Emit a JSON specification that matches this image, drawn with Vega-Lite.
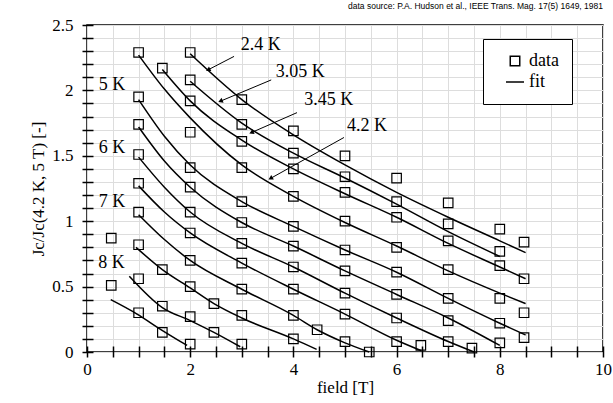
{
  "$schema": "https://vega.github.io/schema/vega-lite/v6.json",
  "width": 516,
  "height": 327,
  "autosize": {"type": "none"},
  "padding": {"left": 87, "top": 25, "right": 10, "bottom": 51},
  "background": "white",
  "title": {
    "text": "data source: P.A. Hudson et al., IEEE Trans. Mag. 17(5) 1649, 1981",
    "anchor": "end",
    "frame": "group",
    "font": "Liberation Sans",
    "fontSize": 8.5,
    "fontWeight": "normal",
    "color": "black",
    "offset": 6
  },
  "config": {
    "view": {"stroke": "black", "strokeWidth": 1.5}
  },
  "datasets": {
    "squares": [
      {"B": 0.47, "J": 0.87}, {"B": 0.47, "J": 0.51},
      {"B": 1, "J": 2.29}, {"B": 1, "J": 1.95}, {"B": 1, "J": 1.74}, {"B": 1, "J": 1.51}, {"B": 1, "J": 1.29},
      {"B": 1, "J": 1.07}, {"B": 1, "J": 0.82}, {"B": 1, "J": 0.56}, {"B": 1, "J": 0.30},
      {"B": 1.46, "J": 2.17}, {"B": 1.46, "J": 0.63}, {"B": 1.46, "J": 0.35}, {"B": 1.46, "J": 0.15},
      {"B": 2, "J": 2.29}, {"B": 2, "J": 2.08}, {"B": 2, "J": 1.92}, {"B": 2, "J": 1.68}, {"B": 2, "J": 1.41},
      {"B": 2, "J": 1.26}, {"B": 2, "J": 1.07}, {"B": 2, "J": 0.91}, {"B": 2, "J": 0.70}, {"B": 2, "J": 0.50},
      {"B": 2, "J": 0.27}, {"B": 2, "J": 0.06},
      {"B": 2.46, "J": 0.37}, {"B": 2.46, "J": 0.15},
      {"B": 3, "J": 1.93}, {"B": 3, "J": 1.74}, {"B": 3, "J": 1.61}, {"B": 3, "J": 1.41}, {"B": 3, "J": 1.15},
      {"B": 3, "J": 0.99}, {"B": 3, "J": 0.83}, {"B": 3, "J": 0.68}, {"B": 3, "J": 0.48}, {"B": 3, "J": 0.28},
      {"B": 3, "J": 0.06},
      {"B": 4, "J": 1.69}, {"B": 4, "J": 1.52}, {"B": 4, "J": 1.40}, {"B": 4, "J": 1.19}, {"B": 4, "J": 0.96},
      {"B": 4, "J": 0.81}, {"B": 4, "J": 0.65}, {"B": 4, "J": 0.48}, {"B": 4, "J": 0.28}, {"B": 4, "J": 0.10},
      {"B": 4.46, "J": 0.17},
      {"B": 5, "J": 1.50}, {"B": 5, "J": 1.34}, {"B": 5, "J": 1.22}, {"B": 5, "J": 1.00}, {"B": 5, "J": 0.78},
      {"B": 5, "J": 0.62}, {"B": 5, "J": 0.45}, {"B": 5, "J": 0.29}, {"B": 5, "J": 0.08},
      {"B": 5.47, "J": 0.0},
      {"B": 6, "J": 1.33}, {"B": 6, "J": 1.15}, {"B": 6, "J": 1.03}, {"B": 6, "J": 0.80}, {"B": 6, "J": 0.61},
      {"B": 6, "J": 0.44}, {"B": 6, "J": 0.26}, {"B": 6, "J": 0.08},
      {"B": 6.47, "J": 0.05},
      {"B": 7, "J": 1.14}, {"B": 7, "J": 0.98}, {"B": 7, "J": 0.85}, {"B": 7, "J": 0.63}, {"B": 7, "J": 0.41},
      {"B": 7, "J": 0.24}, {"B": 7, "J": 0.08},
      {"B": 7.46, "J": 0.03},
      {"B": 8, "J": 0.94}, {"B": 8, "J": 0.77}, {"B": 8, "J": 0.66}, {"B": 8, "J": 0.41}, {"B": 8, "J": 0.22},
      {"B": 8, "J": 0.07},
      {"B": 8.47, "J": 0.84}, {"B": 8.47, "J": 0.56}, {"B": 8.47, "J": 0.30}, {"B": 8.47, "J": 0.11}
    ],
    "fits": [
      {"curve": "2.4 K", "B": 2, "J": 2.28}, {"curve": "2.4 K", "B": 3, "J": 1.93}, {"curve": "2.4 K", "B": 4, "J": 1.66},
      {"curve": "2.4 K", "B": 5, "J": 1.43}, {"curve": "2.4 K", "B": 6, "J": 1.22}, {"curve": "2.4 K", "B": 7, "J": 1.03},
      {"curve": "2.4 K", "B": 8, "J": 0.85}, {"curve": "2.4 K", "B": 8.5, "J": 0.76},

      {"curve": "3.05 K", "B": 2, "J": 2.07}, {"curve": "3.05 K", "B": 3, "J": 1.75}, {"curve": "3.05 K", "B": 4, "J": 1.52},
      {"curve": "3.05 K", "B": 5, "J": 1.33}, {"curve": "3.05 K", "B": 6, "J": 1.13}, {"curve": "3.05 K", "B": 7, "J": 0.92},
      {"curve": "3.05 K", "B": 8, "J": 0.73},

      {"curve": "3.45 K", "B": 1.46, "J": 2.16}, {"curve": "3.45 K", "B": 2, "J": 1.92}, {"curve": "3.45 K", "B": 3, "J": 1.62},
      {"curve": "3.45 K", "B": 4, "J": 1.40}, {"curve": "3.45 K", "B": 5, "J": 1.21}, {"curve": "3.45 K", "B": 6, "J": 1.03},
      {"curve": "3.45 K", "B": 7, "J": 0.83}, {"curve": "3.45 K", "B": 8, "J": 0.65}, {"curve": "3.45 K", "B": 8.5, "J": 0.56},

      {"curve": "4.2 K", "B": 1, "J": 2.27}, {"curve": "4.2 K", "B": 1.5, "J": 2.01}, {"curve": "4.2 K", "B": 2, "J": 1.79},
      {"curve": "4.2 K", "B": 3, "J": 1.43}, {"curve": "4.2 K", "B": 4, "J": 1.19}, {"curve": "4.2 K", "B": 5, "J": 0.99},
      {"curve": "4.2 K", "B": 6, "J": 0.81}, {"curve": "4.2 K", "B": 7, "J": 0.62}, {"curve": "4.2 K", "B": 8, "J": 0.45},
      {"curve": "4.2 K", "B": 8.5, "J": 0.37},

      {"curve": "5 K", "B": 1, "J": 1.93}, {"curve": "5 K", "B": 1.5, "J": 1.65}, {"curve": "5 K", "B": 2, "J": 1.43},
      {"curve": "5 K", "B": 3, "J": 1.15}, {"curve": "5 K", "B": 4, "J": 0.96}, {"curve": "5 K", "B": 5, "J": 0.78},
      {"curve": "5 K", "B": 6, "J": 0.61}, {"curve": "5 K", "B": 7, "J": 0.41}, {"curve": "5 K", "B": 8, "J": 0.22},
      {"curve": "5 K", "B": 8.5, "J": 0.13},

      {"curve": "5.5 K", "B": 1, "J": 1.72}, {"curve": "5.5 K", "B": 1.5, "J": 1.46}, {"curve": "5.5 K", "B": 2, "J": 1.26},
      {"curve": "5.5 K", "B": 3, "J": 0.99}, {"curve": "5.5 K", "B": 4, "J": 0.81}, {"curve": "5.5 K", "B": 5, "J": 0.62},
      {"curve": "5.5 K", "B": 6, "J": 0.44}, {"curve": "5.5 K", "B": 7, "J": 0.26}, {"curve": "5.5 K", "B": 8, "J": 0.05},

      {"curve": "6 K", "B": 1, "J": 1.49}, {"curve": "6 K", "B": 1.5, "J": 1.26}, {"curve": "6 K", "B": 2, "J": 1.07},
      {"curve": "6 K", "B": 3, "J": 0.83}, {"curve": "6 K", "B": 4, "J": 0.65}, {"curve": "6 K", "B": 5, "J": 0.45},
      {"curve": "6 K", "B": 6, "J": 0.26}, {"curve": "6 K", "B": 7, "J": 0.08}, {"curve": "6 K", "B": 7.5, "J": 0.0},

      {"curve": "6.5 K", "B": 1, "J": 1.27}, {"curve": "6.5 K", "B": 1.5, "J": 1.07}, {"curve": "6.5 K", "B": 2, "J": 0.91},
      {"curve": "6.5 K", "B": 3, "J": 0.68}, {"curve": "6.5 K", "B": 4, "J": 0.48}, {"curve": "6.5 K", "B": 5, "J": 0.29},
      {"curve": "6.5 K", "B": 6, "J": 0.09}, {"curve": "6.5 K", "B": 6.48, "J": 0.01},

      {"curve": "7 K", "B": 1, "J": 1.05}, {"curve": "7 K", "B": 1.5, "J": 0.86}, {"curve": "7 K", "B": 2, "J": 0.70},
      {"curve": "7 K", "B": 3, "J": 0.48}, {"curve": "7 K", "B": 4, "J": 0.28}, {"curve": "7 K", "B": 4.46, "J": 0.17},
      {"curve": "7 K", "B": 5, "J": 0.07}, {"curve": "7 K", "B": 5.47, "J": 0.0},

      {"curve": "7.5 K", "B": 0.95, "J": 0.80}, {"curve": "7.5 K", "B": 1.46, "J": 0.63}, {"curve": "7.5 K", "B": 2, "J": 0.49},
      {"curve": "7.5 K", "B": 2.46, "J": 0.37}, {"curve": "7.5 K", "B": 3, "J": 0.26}, {"curve": "7.5 K", "B": 4, "J": 0.10},
      {"curve": "7.5 K", "B": 4.45, "J": 0.02},

      {"curve": "8 K", "B": 0.82, "J": 0.58}, {"curve": "8 K", "B": 1.46, "J": 0.34}, {"curve": "8 K", "B": 2, "J": 0.24},
      {"curve": "8 K", "B": 2.46, "J": 0.15}, {"curve": "8 K", "B": 2.97, "J": 0.04},

      {"curve": "8.5 K", "B": 0.46, "J": 0.40}, {"curve": "8.5 K", "B": 0.97, "J": 0.29}, {"curve": "8.5 K", "B": 1.44, "J": 0.17},
      {"curve": "8.5 K", "B": 1.94, "J": 0.05}
    ],
    "leaders": [
      {"B": 2.36, "J": 2.16, "B2": 2.85, "J2": 2.26},
      {"B": 2.6, "J": 1.92, "B2": 3.57, "J2": 2.08},
      {"B": 3.2, "J": 1.68, "B2": 4.07, "J2": 1.83},
      {"B": 3.57, "J": 1.33, "B2": 4.98, "J2": 1.64}
    ],
    "temps": [
      {"B": 2.98, "J": 2.35, "t": "2.4 K"},
      {"B": 3.66, "J": 2.14, "t": "3.05 K"},
      {"B": 4.21, "J": 1.93, "t": "3.45 K"},
      {"B": 5.04, "J": 1.73, "t": "4.2 K"},
      {"B": 0.23, "J": 2.04, "t": "5 K"},
      {"B": 0.23, "J": 1.56, "t": "6 K"},
      {"B": 0.23, "J": 1.15, "t": "7 K"},
      {"B": 0.22, "J": 0.68, "t": "8 K"}
    ]
  },
  "encoding": {
    "x": {
      "field": "B",
      "type": "quantitative",
      "scale": {"domain": [0, 10], "nice": false, "zero": false},
      "axis": {
        "title": "field [T]",
        "values": [0, 0.5, 1, 1.5, 2, 2.5, 3, 3.5, 4, 4.5, 5, 5.5, 6, 6.5, 7, 7.5, 8, 8.5, 9, 9.5, 10],
        "labelExpr": "datum.value % 2 === 0 ? format(datum.value, 'd') : ''",
        "offset": -6,
        "domain": false,
        "tickSize": 11,
        "tickWidth": 1.5,
        "tickColor": "black",
        "labelColor": "black",
        "titleColor": "black",
        "labelFont": "Liberation Serif",
        "titleFont": "Liberation Serif",
        "labelFontSize": 17,
        "titleFontSize": 17,
        "titleFontWeight": "normal",
        "labelOverlap": false,
        "labelFlush": false,
        "labelPadding": 4,
        "titlePadding": 2
      }
    },
    "y": {
      "field": "J",
      "type": "quantitative",
      "scale": {"domain": [0, 2.5], "nice": false, "zero": false},
      "axis": {
        "title": "Jc/Jc(4.2 K, 5 T) [-]",
        "values": [0, 0.1, 0.2, 0.3, 0.4, 0.5, 0.6, 0.7, 0.8, 0.9, 1, 1.1, 1.2, 1.3, 1.4, 1.5, 1.6, 1.7, 1.8, 1.9, 2, 2.1, 2.2, 2.3, 2.4, 2.5],
        "labelExpr": "abs(datum.value * 2 - round(datum.value * 2)) < 0.001 ? format(datum.value, '~g') : ''",
        "offset": -6,
        "domain": false,
        "tickSize": 11,
        "tickWidth": 1.5,
        "tickColor": "black",
        "labelColor": "black",
        "titleColor": "black",
        "labelFont": "Liberation Serif",
        "titleFont": "Liberation Serif",
        "labelFontSize": 17,
        "titleFontSize": 17,
        "titleFontWeight": "normal",
        "labelOverlap": false,
        "labelFlush": false,
        "labelPadding": 9,
        "titlePadding": 4
      }
    }
  },
  "layer": [
    {
      "data": {"name": "fits"},
      "mark": {"type": "line", "color": "black", "strokeWidth": 1.5, "interpolate": "monotone"},
      "encoding": {"detail": {"field": "curve"}}
    },
    {
      "data": {"name": "squares"},
      "mark": {"type": "point", "filled": false, "color": "black", "strokeWidth": 1.2, "opacity": 1},
      "encoding": {
        "shape": {
          "datum": "data",
          "scale": {"domain": ["data", "fit"], "range": ["square", "stroke"]},
          "legend": {
            "title": null,
            "orient": "none",
            "legendX": 396,
            "legendY": 14,
            "strokeColor": "black",
            "fillColor": "white",
            "padding": 13,
            "symbolOffset": 9,
            "labelOffset": 4,
            "rowPadding": 2,
            "labelFont": "Liberation Serif",
            "labelFontSize": 18,
            "labelColor": "black",
            "symbolStrokeColor": "black",
            "symbolFillColor": "transparent",
            "symbolStrokeWidth": 1.5
          }
        },
        "size": {
          "datum": "data",
          "scale": {"domain": ["data", "fit"], "range": [90, 324]},
          "legend": {"title": null}
        }
      }
    },
    {
      "data": {"name": "leaders"},
      "mark": {"type": "rule", "color": "black", "strokeWidth": 1},
      "encoding": {"x2": {"field": "B2"}, "y2": {"field": "J2"}}
    },
    {
      "data": {"name": "leaders"},
      "transform": [
        {"calculate": "atan2((datum.B - datum.B2) * 51.6, (datum.J - datum.J2) * 130.8) * 180 / PI", "as": "ang"}
      ],
      "mark": {"type": "point", "shape": "triangle", "filled": true, "color": "black", "size": 28, "opacity": 1},
      "encoding": {"angle": {"field": "ang", "type": "quantitative", "scale": null}}
    },
    {
      "data": {"name": "temps"},
      "mark": {"type": "text", "align": "left", "baseline": "middle", "font": "Liberation Serif", "fontSize": 18, "color": "black"},
      "encoding": {"text": {"field": "t"}}
    }
  ]
}
